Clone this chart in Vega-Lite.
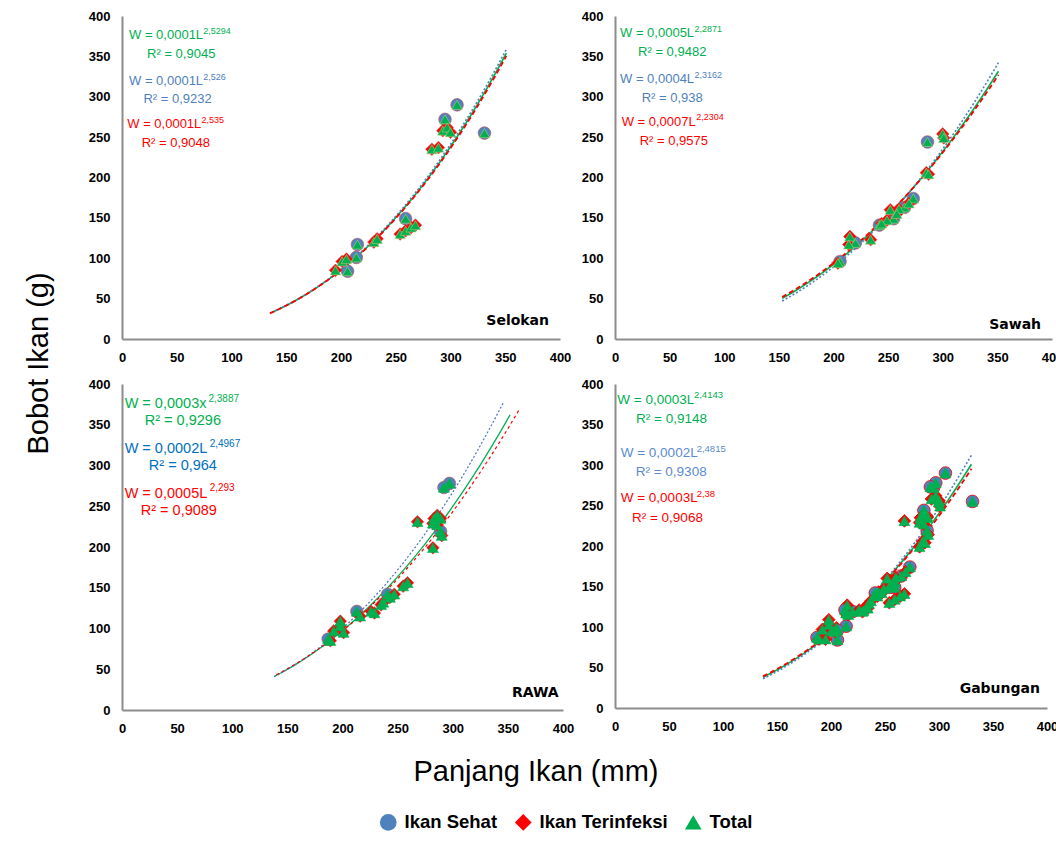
{
  "$schema": "https://vega.github.io/schema/vega-lite/v6.json",
  "padding": {"left": 24, "top": 10, "right": 0, "bottom": 5},
  "background": "white",
  "datasets": {
    "fish": [
      {"lokasi": "Selokan", "kondisi": "Ikan Sehat", "L": 306, "W": 290},
      {"lokasi": "Selokan", "kondisi": "Ikan Sehat", "L": 295, "W": 272},
      {"lokasi": "Selokan", "kondisi": "Ikan Sehat", "L": 331, "W": 255},
      {"lokasi": "Selokan", "kondisi": "Ikan Sehat", "L": 259, "W": 149},
      {"lokasi": "Selokan", "kondisi": "Ikan Sehat", "L": 215, "W": 117},
      {"lokasi": "Selokan", "kondisi": "Ikan Sehat", "L": 214, "W": 101},
      {"lokasi": "Selokan", "kondisi": "Ikan Sehat", "L": 206, "W": 84},
      {"lokasi": "Selokan", "kondisi": "Ikan Terinfeksi", "L": 293, "W": 258},
      {"lokasi": "Selokan", "kondisi": "Ikan Terinfeksi", "L": 297, "W": 262},
      {"lokasi": "Selokan", "kondisi": "Ikan Terinfeksi", "L": 300, "W": 256},
      {"lokasi": "Selokan", "kondisi": "Ikan Terinfeksi", "L": 283, "W": 235},
      {"lokasi": "Selokan", "kondisi": "Ikan Terinfeksi", "L": 289, "W": 237},
      {"lokasi": "Selokan", "kondisi": "Ikan Terinfeksi", "L": 254, "W": 130},
      {"lokasi": "Selokan", "kondisi": "Ikan Terinfeksi", "L": 259, "W": 134},
      {"lokasi": "Selokan", "kondisi": "Ikan Terinfeksi", "L": 264, "W": 138},
      {"lokasi": "Selokan", "kondisi": "Ikan Terinfeksi", "L": 268, "W": 141},
      {"lokasi": "Selokan", "kondisi": "Ikan Terinfeksi", "L": 230, "W": 120},
      {"lokasi": "Selokan", "kondisi": "Ikan Terinfeksi", "L": 233, "W": 124},
      {"lokasi": "Selokan", "kondisi": "Ikan Terinfeksi", "L": 201, "W": 96},
      {"lokasi": "Selokan", "kondisi": "Ikan Terinfeksi", "L": 205, "W": 99},
      {"lokasi": "Selokan", "kondisi": "Ikan Terinfeksi", "L": 195, "W": 85},
      {"lokasi": "Sawah", "kondisi": "Ikan Sehat", "L": 286, "W": 244},
      {"lokasi": "Sawah", "kondisi": "Ikan Sehat", "L": 273, "W": 174},
      {"lokasi": "Sawah", "kondisi": "Ikan Sehat", "L": 255, "W": 149},
      {"lokasi": "Sawah", "kondisi": "Ikan Sehat", "L": 242, "W": 141},
      {"lokasi": "Sawah", "kondisi": "Ikan Sehat", "L": 220, "W": 119},
      {"lokasi": "Sawah", "kondisi": "Ikan Sehat", "L": 206, "W": 96},
      {"lokasi": "Sawah", "kondisi": "Ikan Sehat", "L": 265, "W": 163},
      {"lokasi": "Sawah", "kondisi": "Ikan Terinfeksi", "L": 300, "W": 254},
      {"lokasi": "Sawah", "kondisi": "Ikan Terinfeksi", "L": 301, "W": 249},
      {"lokasi": "Sawah", "kondisi": "Ikan Terinfeksi", "L": 285, "W": 206},
      {"lokasi": "Sawah", "kondisi": "Ikan Terinfeksi", "L": 287, "W": 204},
      {"lokasi": "Sawah", "kondisi": "Ikan Terinfeksi", "L": 252, "W": 160},
      {"lokasi": "Sawah", "kondisi": "Ikan Terinfeksi", "L": 269, "W": 168},
      {"lokasi": "Sawah", "kondisi": "Ikan Terinfeksi", "L": 260, "W": 161},
      {"lokasi": "Sawah", "kondisi": "Ikan Terinfeksi", "L": 249, "W": 147},
      {"lokasi": "Sawah", "kondisi": "Ikan Terinfeksi", "L": 244, "W": 143},
      {"lokasi": "Sawah", "kondisi": "Ikan Terinfeksi", "L": 234, "W": 123},
      {"lokasi": "Sawah", "kondisi": "Ikan Terinfeksi", "L": 215, "W": 127},
      {"lokasi": "Sawah", "kondisi": "Ikan Terinfeksi", "L": 214, "W": 117},
      {"lokasi": "Sawah", "kondisi": "Ikan Terinfeksi", "L": 204, "W": 94},
      {"lokasi": "Sawah", "kondisi": "Ikan Terinfeksi", "L": 258, "W": 155},
      {"lokasi": "RAWA", "kondisi": "Ikan Sehat", "L": 297, "W": 278},
      {"lokasi": "RAWA", "kondisi": "Ikan Sehat", "L": 292, "W": 273},
      {"lokasi": "RAWA", "kondisi": "Ikan Sehat", "L": 289, "W": 219},
      {"lokasi": "RAWA", "kondisi": "Ikan Sehat", "L": 213, "W": 121},
      {"lokasi": "RAWA", "kondisi": "Ikan Sehat", "L": 187, "W": 87},
      {"lokasi": "RAWA", "kondisi": "Ikan Sehat", "L": 241, "W": 142},
      {"lokasi": "RAWA", "kondisi": "Ikan Terinfeksi", "L": 268, "W": 231},
      {"lokasi": "RAWA", "kondisi": "Ikan Terinfeksi", "L": 283, "W": 235},
      {"lokasi": "RAWA", "kondisi": "Ikan Terinfeksi", "L": 286, "W": 239},
      {"lokasi": "RAWA", "kondisi": "Ikan Terinfeksi", "L": 289, "W": 235},
      {"lokasi": "RAWA", "kondisi": "Ikan Terinfeksi", "L": 282, "W": 229},
      {"lokasi": "RAWA", "kondisi": "Ikan Terinfeksi", "L": 286, "W": 227},
      {"lokasi": "RAWA", "kondisi": "Ikan Terinfeksi", "L": 290, "W": 214},
      {"lokasi": "RAWA", "kondisi": "Ikan Terinfeksi", "L": 282, "W": 199},
      {"lokasi": "RAWA", "kondisi": "Ikan Terinfeksi", "L": 259, "W": 156},
      {"lokasi": "RAWA", "kondisi": "Ikan Terinfeksi", "L": 255, "W": 152},
      {"lokasi": "RAWA", "kondisi": "Ikan Terinfeksi", "L": 247, "W": 142},
      {"lokasi": "RAWA", "kondisi": "Ikan Terinfeksi", "L": 243, "W": 138},
      {"lokasi": "RAWA", "kondisi": "Ikan Terinfeksi", "L": 237, "W": 132},
      {"lokasi": "RAWA", "kondisi": "Ikan Terinfeksi", "L": 235, "W": 129},
      {"lokasi": "RAWA", "kondisi": "Ikan Terinfeksi", "L": 226, "W": 121},
      {"lokasi": "RAWA", "kondisi": "Ikan Terinfeksi", "L": 229, "W": 119},
      {"lokasi": "RAWA", "kondisi": "Ikan Terinfeksi", "L": 216, "W": 115},
      {"lokasi": "RAWA", "kondisi": "Ikan Terinfeksi", "L": 198, "W": 109},
      {"lokasi": "RAWA", "kondisi": "Ikan Terinfeksi", "L": 198, "W": 103},
      {"lokasi": "RAWA", "kondisi": "Ikan Terinfeksi", "L": 201, "W": 95},
      {"lokasi": "RAWA", "kondisi": "Ikan Terinfeksi", "L": 192, "W": 97},
      {"lokasi": "RAWA", "kondisi": "Ikan Terinfeksi", "L": 189, "W": 85}
    ]
  },
  "config": {
    "view": {"stroke": null},
    "font": "Liberation Sans",
    "axis": {
      "grid": false, "ticks": false, "tickSize": 0,
      "labelFont": "Liberation Sans", "labelFontWeight": "bold", "labelFontSize": 13,
      "labelColor": "#000000", "labelPadding": 12, "labelFlush": false, "labelOverlap": false,
      "domainColor": "#8c8c8c", "domainWidth": 2
    },
    "legend": {
      "orient": "none", "legendX": 257, "legendY": 797, "direction": "horizontal",
      "labelFont": "Liberation Sans", "labelFontSize": 18.5, "labelFontWeight": "bold",
      "labelColor": "#000000", "symbolSize": 280, "columnPadding": 16, "labelOffset": 7,
      "symbolStrokeWidth": 0
    }
  },
  "bounds": "flush",
  "columns": 2,
  "spacing": {"row": 45, "column": 52},
  "concat": [
    {
      "width": 438, "height": 323,
      "layer": [
        {
          "encoding": {
            "x": {"field": "L", "type": "quantitative", "scale": {"domain": [0, 400], "nice": false}, "axis": {"values": [0, 50, 100, 150, 200, 250, 300, 350, 400], "title": null}},
            "y": {"field": "W", "type": "quantitative", "scale": {"domain": [0, 400], "nice": false}, "axis": {"values": [0, 50, 100, 150, 200, 250, 300, 350, 400], "title": "Bobot Ikan (g)", "titleFont": "Liberation Sans", "titleFontSize": 29, "titleFontWeight": "normal", "titleColor": "#000000", "titleAngle": -90, "titleX": -84, "titleY": 347, "titleAlign": "center", "titleBaseline": "middle"}}
          },
          "layer": [
            {"data": {"name": "fish"}, "transform": [{"filter": "datum.lokasi === 'Selokan'"}, {"regression": "W", "on": "L", "method": "pow", "extent": [137, 351]}], "mark": {"type": "line", "color": "#00B050", "strokeWidth": 1.6}, "encoding": {}},
            {"data": {"name": "fish"}, "transform": [{"filter": "datum.lokasi === 'Selokan' && datum.kondisi === 'Ikan Sehat'"}, {"regression": "W", "on": "L", "method": "pow", "extent": [137, 351]}], "mark": {"type": "line", "color": "#4F81BD", "strokeWidth": 1.6, "strokeDash": [2, 2]}, "encoding": {}},
            {"data": {"name": "fish"}, "transform": [{"filter": "datum.lokasi === 'Selokan' && datum.kondisi === 'Ikan Terinfeksi'"}, {"regression": "W", "on": "L", "method": "pow", "extent": [135, 351]}], "mark": {"type": "line", "color": "#FF0000", "strokeWidth": 1.8, "strokeDash": [5, 3]}, "encoding": {}},
            {"data": {"name": "fish"}, "transform": [{"filter": "datum.lokasi === 'Selokan'"}], "mark": {"type": "point", "filled": true, "size": 160, "opacity": 1, "stroke": "#C0504D", "strokeWidth": 0.6},
             "encoding": {
               "color": {"field": "kondisi", "type": "nominal", "title": null, "scale": {"domain": ["Ikan Sehat", "Ikan Terinfeksi", "Total"], "range": ["#4F81BD", "#FF0000", "#00B050"]}},
               "shape": {"field": "kondisi", "type": "nominal", "title": null, "scale": {"domain": ["Ikan Sehat", "Ikan Terinfeksi", "Total"], "range": ["circle", "diamond", "triangle-up"]}}
             }},
            {"data": {"name": "fish"}, "transform": [{"filter": "datum.lokasi === 'Selokan'"}], "mark": {"type": "point", "filled": true, "size": 110, "opacity": 1, "stroke": "#B5CF7A", "strokeWidth": 0.6},
             "encoding": {
               "color": {"datum": "Total", "type": "nominal", "title": null, "scale": {"domain": ["Ikan Sehat", "Ikan Terinfeksi", "Total"], "range": ["#4F81BD", "#FF0000", "#00B050"]}},
               "shape": {"datum": "Total", "type": "nominal", "title": null, "scale": {"domain": ["Ikan Sehat", "Ikan Terinfeksi", "Total"], "range": ["circle", "diamond", "triangle-up"]}}
             }}
          ]
        },
        {"data": {"values": [{"k": 1}]}, "mark": {"type": "text", "text": ["W = 0,0001L", "\u200b\u00a0\u00a0\u00a0\u00a0\u00a0R² = 0,9045"], "align": "left", "baseline": "alphabetic", "lineHeight": 18.5, "font": "Liberation Sans", "fontSize": 13, "color": "#00B050"}, "encoding": {"x": {"datum": 6.4, "type": "quantitative"}, "y": {"datum": 371, "type": "quantitative"}}},
        {"data": {"values": [{"k": 1}]}, "mark": {"type": "text", "text": "2,5294", "align": "left", "baseline": "middle", "font": "Liberation Sans", "fontSize": 9, "color": "#00B050"}, "encoding": {"x": {"datum": 74.2, "type": "quantitative"}, "y": {"datum": 381, "type": "quantitative"}}},
        {"data": {"values": [{"k": 1}]}, "mark": {"type": "text", "text": ["W = 0,0001L", "\u200b\u00a0\u00a0\u00a0\u00a0R² = 0,9232"], "align": "left", "baseline": "alphabetic", "lineHeight": 18.5, "font": "Liberation Sans", "fontSize": 13, "color": "#4F81BD"}, "encoding": {"x": {"datum": 6.4, "type": "quantitative"}, "y": {"datum": 315, "type": "quantitative"}}},
        {"data": {"values": [{"k": 1}]}, "mark": {"type": "text", "text": "2,526", "align": "left", "baseline": "middle", "font": "Liberation Sans", "fontSize": 9, "color": "#4F81BD"}, "encoding": {"x": {"datum": 74.2, "type": "quantitative"}, "y": {"datum": 325, "type": "quantitative"}}},
        {"data": {"values": [{"k": 1}]}, "mark": {"type": "text", "text": ["W = 0,0001L", "\u200b\u00a0\u00a0\u00a0\u00a0R² = 0,9048"], "align": "left", "baseline": "alphabetic", "lineHeight": 18.5, "font": "Liberation Sans", "fontSize": 13, "color": "#FF0000"}, "encoding": {"x": {"datum": 4.8, "type": "quantitative"}, "y": {"datum": 261, "type": "quantitative"}}},
        {"data": {"values": [{"k": 1}]}, "mark": {"type": "text", "text": "2,535", "align": "left", "baseline": "middle", "font": "Liberation Sans", "fontSize": 9, "color": "#FF0000"}, "encoding": {"x": {"datum": 72.7, "type": "quantitative"}, "y": {"datum": 271, "type": "quantitative"}}},
        {"data": {"values": [{"k": 1}]}, "mark": {"type": "text", "text": "Selokan", "align": "right", "baseline": "middle", "font": "DejaVu Sans", "fontSize": 14, "fontWeight": "bold", "color": "#000000"}, "encoding": {"x": {"datum": 390, "type": "quantitative"}, "y": {"datum": 22.7, "type": "quantitative"}}}
      ]
    },
    {
      "width": 437, "height": 323,
      "layer": [
        {
          "encoding": {
            "x": {"field": "L", "type": "quantitative", "scale": {"domain": [0, 400], "nice": false}, "axis": {"values": [0, 50, 100, 150, 200, 250, 300, 350, 400], "title": null}},
            "y": {"field": "W", "type": "quantitative", "scale": {"domain": [0, 400], "nice": false}, "axis": {"values": [0, 50, 100, 150, 200, 250, 300, 350, 400], "title": null}}
          },
          "layer": [
            {"data": {"name": "fish"}, "transform": [{"filter": "datum.lokasi === 'Sawah'"}, {"regression": "W", "on": "L", "method": "pow", "extent": [153, 351]}], "mark": {"type": "line", "color": "#00B050", "strokeWidth": 1.6}, "encoding": {}},
            {"data": {"name": "fish"}, "transform": [{"filter": "datum.lokasi === 'Sawah' && datum.kondisi === 'Ikan Sehat'"}, {"regression": "W", "on": "L", "method": "pow", "extent": [153, 351]}], "mark": {"type": "line", "color": "#4F81BD", "strokeWidth": 1.6, "strokeDash": [2, 2]}, "encoding": {}},
            {"data": {"name": "fish"}, "transform": [{"filter": "datum.lokasi === 'Sawah' && datum.kondisi === 'Ikan Terinfeksi'"}, {"regression": "W", "on": "L", "method": "pow", "extent": [153, 351]}], "mark": {"type": "line", "color": "#FF0000", "strokeWidth": 1.8, "strokeDash": [5, 3]}, "encoding": {}},
            {"data": {"name": "fish"}, "transform": [{"filter": "datum.lokasi === 'Sawah'"}], "mark": {"type": "point", "filled": true, "size": 160, "opacity": 1, "stroke": "#C0504D", "strokeWidth": 0.6},
             "encoding": {
               "color": {"field": "kondisi", "type": "nominal", "title": null, "scale": {"domain": ["Ikan Sehat", "Ikan Terinfeksi", "Total"], "range": ["#4F81BD", "#FF0000", "#00B050"]}},
               "shape": {"field": "kondisi", "type": "nominal", "title": null, "scale": {"domain": ["Ikan Sehat", "Ikan Terinfeksi", "Total"], "range": ["circle", "diamond", "triangle-up"]}}
             }},
            {"data": {"name": "fish"}, "transform": [{"filter": "datum.lokasi === 'Sawah'"}], "mark": {"type": "point", "filled": true, "size": 110, "opacity": 1, "stroke": "#B5CF7A", "strokeWidth": 0.6},
             "encoding": {
               "color": {"datum": "Total", "type": "nominal", "title": null, "scale": {"domain": ["Ikan Sehat", "Ikan Terinfeksi", "Total"], "range": ["#4F81BD", "#FF0000", "#00B050"]}},
               "shape": {"datum": "Total", "type": "nominal", "title": null, "scale": {"domain": ["Ikan Sehat", "Ikan Terinfeksi", "Total"], "range": ["circle", "diamond", "triangle-up"]}}
             }}
          ]
        },
        {"data": {"values": [{"k": 1}]}, "mark": {"type": "text", "text": ["W = 0,0005L", "\u200b\u00a0\u00a0\u00a0\u00a0\u00a0R² = 0,9482"], "align": "left", "baseline": "alphabetic", "lineHeight": 18.7, "font": "Liberation Sans", "fontSize": 13, "color": "#00B050"}, "encoding": {"x": {"datum": 4.6, "type": "quantitative"}, "y": {"datum": 374, "type": "quantitative"}}},
        {"data": {"values": [{"k": 1}]}, "mark": {"type": "text", "text": "2,2871", "align": "left", "baseline": "middle", "font": "Liberation Sans", "fontSize": 9, "color": "#00B050"}, "encoding": {"x": {"datum": 72.8, "type": "quantitative"}, "y": {"datum": 384, "type": "quantitative"}}},
        {"data": {"values": [{"k": 1}]}, "mark": {"type": "text", "text": ["W = 0,0004L", "\u200b\u00a0\u00a0\u00a0\u00a0\u00a0\u00a0R² = 0,938"], "align": "left", "baseline": "alphabetic", "lineHeight": 19, "font": "Liberation Sans", "fontSize": 13, "color": "#4F81BD"}, "encoding": {"x": {"datum": 4.6, "type": "quantitative"}, "y": {"datum": 317, "type": "quantitative"}}},
        {"data": {"values": [{"k": 1}]}, "mark": {"type": "text", "text": "2,3162", "align": "left", "baseline": "middle", "font": "Liberation Sans", "fontSize": 9, "color": "#4F81BD"}, "encoding": {"x": {"datum": 72.8, "type": "quantitative"}, "y": {"datum": 327, "type": "quantitative"}}},
        {"data": {"values": [{"k": 1}]}, "mark": {"type": "text", "text": ["W = 0,0007L", "\u200b\u00a0\u00a0\u00a0\u00a0\u00a0R² = 0,9575"], "align": "left", "baseline": "alphabetic", "lineHeight": 19, "font": "Liberation Sans", "fontSize": 13, "color": "#FF0000"}, "encoding": {"x": {"datum": 6.1, "type": "quantitative"}, "y": {"datum": 263.6, "type": "quantitative"}}},
        {"data": {"values": [{"k": 1}]}, "mark": {"type": "text", "text": "2,2304", "align": "left", "baseline": "middle", "font": "Liberation Sans", "fontSize": 9, "color": "#FF0000"}, "encoding": {"x": {"datum": 74.4, "type": "quantitative"}, "y": {"datum": 274.5, "type": "quantitative"}}},
        {"data": {"values": [{"k": 1}]}, "mark": {"type": "text", "text": "Sawah", "align": "right", "baseline": "middle", "font": "DejaVu Sans", "fontSize": 14, "fontWeight": "bold", "color": "#000000"}, "encoding": {"x": {"datum": 390, "type": "quantitative"}, "y": {"datum": 17, "type": "quantitative"}}}
      ]
    },
    {
      "width": 441, "height": 326,
      "layer": [
        {
          "encoding": {
            "x": {"field": "L", "type": "quantitative", "scale": {"domain": [0, 400], "nice": false}, "axis": {"values": [0, 50, 100, 150, 200, 250, 300, 350, 400], "title": "Panjang Ikan (mm)", "titleFont": "Liberation Sans", "titleFontSize": 29, "titleFontWeight": "normal", "titleColor": "#000000", "titleX": 413.5, "titleY": 61, "titleAlign": "center", "titleBaseline": "middle"}},
            "y": {"field": "W", "type": "quantitative", "scale": {"domain": [0, 400], "nice": false}, "axis": {"values": [0, 50, 100, 150, 200, 250, 300, 350, 400], "title": null}}
          },
          "layer": [
            {"data": {"name": "fish"}, "transform": [{"filter": "datum.lokasi === 'RAWA'"}, {"regression": "W", "on": "L", "method": "pow", "extent": [138, 352]}], "mark": {"type": "line", "color": "#00B050", "strokeWidth": 1.3}, "encoding": {}},
            {"data": {"name": "fish"}, "transform": [{"filter": "datum.lokasi === 'RAWA' && datum.kondisi === 'Ikan Sehat'"}, {"regression": "W", "on": "L", "method": "pow", "extent": [138, 346]}], "mark": {"type": "line", "color": "#4472C4", "strokeWidth": 1.2, "strokeDash": [2, 2]}, "encoding": {}},
            {"data": {"name": "fish"}, "transform": [{"filter": "datum.lokasi === 'RAWA' && datum.kondisi === 'Ikan Terinfeksi'"}, {"regression": "W", "on": "L", "method": "pow", "extent": [140, 360]}], "mark": {"type": "line", "color": "#FF0000", "strokeWidth": 1.2, "strokeDash": [3, 3]}, "encoding": {}},
            {"data": {"name": "fish"}, "transform": [{"filter": "datum.lokasi === 'RAWA'"}], "mark": {"type": "point", "filled": true, "size": 160, "opacity": 1, "stroke": "#C0504D", "strokeWidth": 0.6},
             "encoding": {
               "color": {"field": "kondisi", "type": "nominal", "title": null, "scale": {"domain": ["Ikan Sehat", "Ikan Terinfeksi", "Total"], "range": ["#4F81BD", "#FF0000", "#00B050"]}},
               "shape": {"field": "kondisi", "type": "nominal", "title": null, "scale": {"domain": ["Ikan Sehat", "Ikan Terinfeksi", "Total"], "range": ["circle", "diamond", "triangle-up"]}}
             }},
            {"data": {"name": "fish"}, "transform": [{"filter": "datum.lokasi === 'RAWA'"}], "mark": {"type": "point", "filled": true, "size": 120, "opacity": 1, "stroke": "#00B050", "strokeWidth": 0.6},
             "encoding": {
               "color": {"datum": "Total", "type": "nominal", "title": null, "scale": {"domain": ["Ikan Sehat", "Ikan Terinfeksi", "Total"], "range": ["#4F81BD", "#FF0000", "#00B050"]}},
               "shape": {"datum": "Total", "type": "nominal", "title": null, "scale": {"domain": ["Ikan Sehat", "Ikan Terinfeksi", "Total"], "range": ["circle", "diamond", "triangle-up"]}}
             }}
          ]
        },
        {"data": {"values": [{"k": 1}]}, "mark": {"type": "text", "text": ["W = 0,0003x", "\u200b\u00a0\u00a0\u00a0\u00a0\u00a0R² = 0,9296"], "align": "left", "baseline": "alphabetic", "lineHeight": 17.3, "font": "Liberation Sans", "fontSize": 14.5, "color": "#00B050"}, "encoding": {"x": {"datum": 2.4, "type": "quantitative"}, "y": {"datum": 371, "type": "quantitative"}}},
        {"data": {"values": [{"k": 1}]}, "mark": {"type": "text", "text": "2,3887", "align": "left", "baseline": "middle", "font": "Liberation Sans", "fontSize": 10, "color": "#00B050"}, "encoding": {"x": {"datum": 78.4, "type": "quantitative"}, "y": {"datum": 381.8, "type": "quantitative"}}},
        {"data": {"values": [{"k": 1}]}, "mark": {"type": "text", "text": ["W = 0,0002L", "\u200b\u00a0\u00a0\u00a0\u00a0\u00a0\u00a0R² = 0,964"], "align": "left", "baseline": "alphabetic", "lineHeight": 17.3, "font": "Liberation Sans", "fontSize": 14.5, "color": "#0070C0"}, "encoding": {"x": {"datum": 2.4, "type": "quantitative"}, "y": {"datum": 315.6, "type": "quantitative"}}},
        {"data": {"values": [{"k": 1}]}, "mark": {"type": "text", "text": "2,4967", "align": "left", "baseline": "middle", "font": "Liberation Sans", "fontSize": 10, "color": "#0070C0"}, "encoding": {"x": {"datum": 79.5, "type": "quantitative"}, "y": {"datum": 326, "type": "quantitative"}}},
        {"data": {"values": [{"k": 1}]}, "mark": {"type": "text", "text": ["W = 0,0005L", "\u200b\u00a0\u00a0\u00a0\u00a0R² = 0,9089"], "align": "left", "baseline": "alphabetic", "lineHeight": 17.3, "font": "Liberation Sans", "fontSize": 14.5, "color": "#FF0000"}, "encoding": {"x": {"datum": 2.4, "type": "quantitative"}, "y": {"datum": 260.7, "type": "quantitative"}}},
        {"data": {"values": [{"k": 1}]}, "mark": {"type": "text", "text": "2,293", "align": "left", "baseline": "middle", "font": "Liberation Sans", "fontSize": 10, "color": "#FF0000"}, "encoding": {"x": {"datum": 79.5, "type": "quantitative"}, "y": {"datum": 272, "type": "quantitative"}}},
        {"data": {"values": [{"k": 1}]}, "mark": {"type": "text", "text": "RAWA", "align": "right", "baseline": "middle", "font": "DejaVu Sans", "fontSize": 14, "fontWeight": "bold", "color": "#000000"}, "encoding": {"x": {"datum": 396, "type": "quantitative"}, "y": {"datum": 20.4, "type": "quantitative"}}}
      ]
    },
    {
      "width": 432, "height": 324,
      "layer": [
        {
          "encoding": {
            "x": {"field": "L", "type": "quantitative", "scale": {"domain": [0, 400], "nice": false}, "axis": {"values": [0, 50, 100, 150, 200, 250, 300, 350, 400], "title": null}},
            "y": {"field": "W", "type": "quantitative", "scale": {"domain": [0, 400], "nice": false}, "axis": {"values": [0, 50, 100, 150, 200, 250, 300, 350, 400], "title": null}}
          },
          "layer": [
            {"data": {"name": "fish"}, "transform": [{"regression": "W", "on": "L", "method": "pow", "extent": [137, 330]}], "mark": {"type": "line", "color": "#00B050", "strokeWidth": 1.6}, "encoding": {}},
            {"data": {"name": "fish"}, "transform": [{"filter": "datum.kondisi === 'Ikan Sehat'"}, {"regression": "W", "on": "L", "method": "pow", "extent": [137, 330]}], "mark": {"type": "line", "color": "#4F81BD", "strokeWidth": 1.6, "strokeDash": [2, 2]}, "encoding": {}},
            {"data": {"name": "fish"}, "transform": [{"filter": "datum.kondisi === 'Ikan Terinfeksi'"}, {"regression": "W", "on": "L", "method": "pow", "extent": [137, 330]}], "mark": {"type": "line", "color": "#FF0000", "strokeWidth": 1.8, "strokeDash": [5, 3]}, "encoding": {}},
            {"data": {"name": "fish"}, "mark": {"type": "point", "filled": true, "size": 160, "opacity": 1, "stroke": "#FF0000", "strokeWidth": 0.8},
             "encoding": {
               "color": {"field": "kondisi", "type": "nominal", "title": null, "scale": {"domain": ["Ikan Sehat", "Ikan Terinfeksi", "Total"], "range": ["#4F81BD", "#FF0000", "#00B050"]}},
               "shape": {"field": "kondisi", "type": "nominal", "title": null, "scale": {"domain": ["Ikan Sehat", "Ikan Terinfeksi", "Total"], "range": ["circle", "diamond", "triangle-up"]}}
             }},
            {"data": {"name": "fish"}, "mark": {"type": "point", "filled": true, "size": 120, "opacity": 1, "stroke": "#00B050", "strokeWidth": 0.6},
             "encoding": {
               "color": {"datum": "Total", "type": "nominal", "title": null, "scale": {"domain": ["Ikan Sehat", "Ikan Terinfeksi", "Total"], "range": ["#4F81BD", "#FF0000", "#00B050"]}},
               "shape": {"datum": "Total", "type": "nominal", "title": null, "scale": {"domain": ["Ikan Sehat", "Ikan Terinfeksi", "Total"], "range": ["circle", "diamond", "triangle-up"]}}
             }}
          ]
        },
        {"data": {"values": [{"k": 1}]}, "mark": {"type": "text", "text": ["W = 0,0003L", "\u200b\u00a0\u00a0\u00a0\u00a0\u00a0R² = 0,9148"], "align": "left", "baseline": "alphabetic", "lineHeight": 19.2, "font": "Liberation Sans", "fontSize": 13.5, "color": "#00B050"}, "encoding": {"x": {"datum": 2.1, "type": "quantitative"}, "y": {"datum": 375.4, "type": "quantitative"}}},
        {"data": {"values": [{"k": 1}]}, "mark": {"type": "text", "text": "2,4143", "align": "left", "baseline": "middle", "font": "Liberation Sans", "fontSize": 9.5, "color": "#00B050"}, "encoding": {"x": {"datum": 73.1, "type": "quantitative"}, "y": {"datum": 386.4, "type": "quantitative"}}},
        {"data": {"values": [{"k": 1}]}, "mark": {"type": "text", "text": ["W = 0,0002L", "\u200b\u00a0\u00a0\u00a0\u00a0R² = 0,9308"], "align": "left", "baseline": "alphabetic", "lineHeight": 19.2, "font": "Liberation Sans", "fontSize": 13.5, "color": "#5B8BD0"}, "encoding": {"x": {"datum": 5.3, "type": "quantitative"}, "y": {"datum": 309.5, "type": "quantitative"}}},
        {"data": {"values": [{"k": 1}]}, "mark": {"type": "text", "text": "2,4815", "align": "left", "baseline": "middle", "font": "Liberation Sans", "fontSize": 9.5, "color": "#5B8BD0"}, "encoding": {"x": {"datum": 75.6, "type": "quantitative"}, "y": {"datum": 319.8, "type": "quantitative"}}},
        {"data": {"values": [{"k": 1}]}, "mark": {"type": "text", "text": ["W = 0,0003L", "\u200b\u00a0\u00a0\u00a0R² = 0,9068"], "align": "left", "baseline": "alphabetic", "lineHeight": 19.6, "font": "Liberation Sans", "fontSize": 13.5, "color": "#FF0000"}, "encoding": {"x": {"datum": 5.3, "type": "quantitative"}, "y": {"datum": 254, "type": "quantitative"}}},
        {"data": {"values": [{"k": 1}]}, "mark": {"type": "text", "text": "2,38", "align": "left", "baseline": "middle", "font": "Liberation Sans", "fontSize": 9.5, "color": "#FF0000"}, "encoding": {"x": {"datum": 75.6, "type": "quantitative"}, "y": {"datum": 264.2, "type": "quantitative"}}},
        {"data": {"values": [{"k": 1}]}, "mark": {"type": "text", "text": "Gabungan", "align": "right", "baseline": "middle", "font": "DejaVu Sans", "fontSize": 14, "fontWeight": "bold", "color": "#000000"}, "encoding": {"x": {"datum": 393.5, "type": "quantitative"}, "y": {"datum": 24, "type": "quantitative"}}}
      ]
    }
  ]
}
